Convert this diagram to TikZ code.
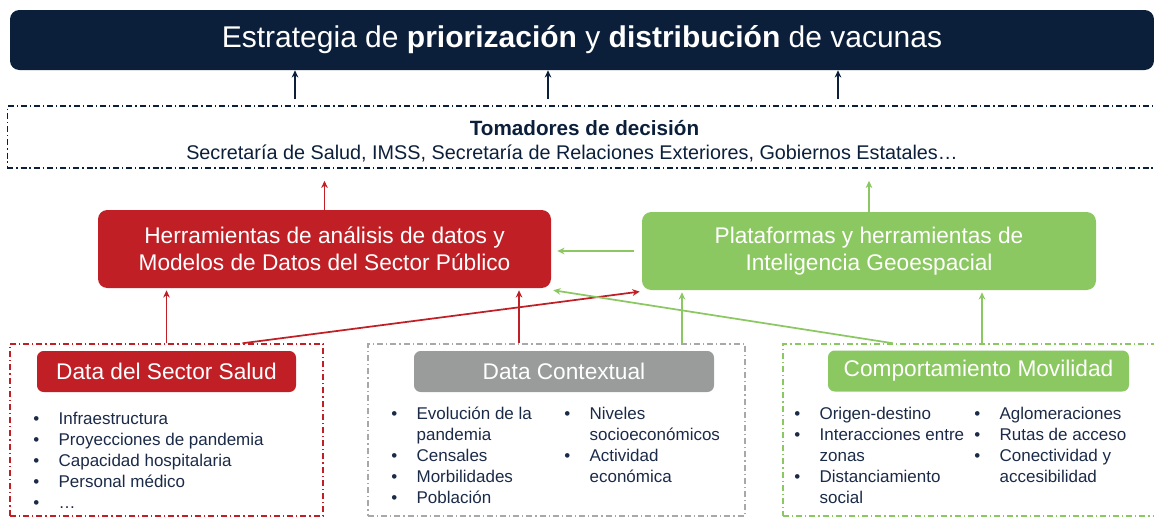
\documentclass[tikz,border=0pt]{standalone}
\usepackage{fontspec}
\setmainfont{Liberation Sans}
\usetikzlibrary{arrows.meta,calc}
\definecolor{navy}{HTML}{0B1F3A}
\definecolor{cred}{HTML}{C01F26}
\definecolor{cgreen}{HTML}{8CC862}
\definecolor{cgray}{HTML}{9A9C9C}
\definecolor{cgrayline}{HTML}{A8A8A8}
\definecolor{ctext}{HTML}{1B2A47}
\tikzset{
  ddash/.style={line width=1.1pt, dash pattern=on 4.5pt off 2.2pt on 1pt off 2.2pt},
  filled/.style={rounded corners=7pt, minimum height=58.5pt, text=white, align=center, font=\fontsize{17}{20.25}\selectfont, inner sep=0pt},
  header/.style={rounded corners=5pt, minimum height=30.75pt, text=white, font=\fontsize{17}{20}\selectfont, inner sep=0pt},
  darr/.style={line width=1.3pt, -{Stealth[length=5.5pt,width=5pt]}},
  blist/.style={anchor=north west, inner sep=0pt, text=ctext, font=\fontsize{12.75}{15.75}\selectfont},
}
\newcommand{\bl}{\makebox[19pt][l]{•}}
\begin{document}
\begin{tikzpicture}[x=0.75pt,y=-0.75pt]
\path[use as bounding box] (0,0) rectangle (1154,518);
% title
\node[fill=navy, rounded corners=7pt, minimum width=858pt, minimum height=45pt, text=white, font=\fontsize{22.5}{26}\selectfont, inner sep=0pt] (title) at (582,40)
  {Estrategia de \textbf{priorización} y \textbf{distribución} de vacunas};
% tomadores
\node[draw=navy, ddash, minimum width=880pt, minimum height=46.5pt, inner sep=0pt] (tom) at (594,137) {};
\node[text=navy, font=\fontsize{15.5}{18}\selectfont\bfseries, inner sep=0pt] (tomt) at (584.5,128) {Tomadores de decisión};
\node[text=navy, font=\fontsize{14.85}{17}\selectfont, inner sep=0pt] (toms) at (572,153) {Secretaría de Salud, IMSS, Secretaría de Relaciones Exteriores, Gobiernos Estatales…};
% navy arrows
\coordinate (na) at ([xshift=-224.25pt]tom.north);
\coordinate (nb) at ([xshift=-34.5pt]tom.north);
\coordinate (nc) at ([xshift=183pt]tom.north);
\foreach \c in {na,nb,nc}{
  \draw[darr, navy, shorten <=4.5pt] (\c) -- (\c |- title.south);
}
% main boxes
\node[filled, fill=cred, minimum width=339.75pt] (red) at (324.5,249) {Herramientas de análisis de datos y\\Modelos de Datos del Sector Público};
\node[filled, fill=cgreen, minimum width=340.5pt] (green) at (869,251) {Plataformas y herramientas de\\Inteligencia Geoespacial};
\draw[darr, cred, shorten >=9pt] (red.north) -- (red.north |- tom.south);
\draw[darr, cgreen, shorten >=9pt] (green.north) -- (green.north |- tom.south);
\draw[darr, cgreen, shorten <=6pt, shorten >=4.5pt] (green.west) -- (green.west -| red.east);
% data boxes
\node[draw=cred, ddash, minimum width=234.75pt, minimum height=129pt, inner sep=0pt] (sbox) at (166.5,430) {};
\node[draw=cgrayline, ddash, minimum width=282.75pt, minimum height=129pt, inner sep=0pt] (cbox) at (556.5,430) {};
\node[draw=cgreen, ddash, minimum width=298.5pt, minimum height=129pt, inner sep=0pt] (mbox) at (982,430) {};
\node[header, fill=cred, minimum width=194.25pt] (sh) at (166.5,371.5) {Data del Sector Salud};
\node[header, fill=cgray, minimum width=225pt] (ch) at (564,371.5) {Data Contextual};
\node[header, fill=cgreen, minimum width=225.75pt] (mh) at (978.5,371) {Comportamiento Movilidad};
% connectors up
\coordinate (ca) at ([xshift=-28.1pt]cbox.north);
\coordinate (cb) at ([xshift=94.1pt]cbox.north);
\coordinate (sr) at ([xshift=57pt]sbox.north);
\coordinate (mg) at ([xshift=-66.75pt]mbox.north);
\draw[darr, cred, shorten >=1.5pt] (sbox.north) -- (sbox.north |- red.south);
\draw[darr, cred, shorten >=1.5pt] (ca) -- (ca |- red.south);
\draw[darr, cgreen, shorten >=1.5pt] (cb) -- (cb |- green.south);
\draw[darr, cgreen, shorten >=1.5pt] (mbox.north) -- (mbox.north |- green.south);
\draw[darr, cred] (sr) -- ([xshift=-1.5pt,yshift=-1pt]green.south west);
\draw[darr, cgreen] (mg) -- ([xshift=1.5pt,yshift=-1.5pt]red.south east);
% lists
\node[blist] (sl) at (33,410) {\begin{tabular}{@{}l@{}l@{}}
\bl&Infraestructura\\
\bl&Proyecciones de pandemia\\
\bl&Capacidad hospitalaria\\
\bl&Personal médico\\
\bl&…
\end{tabular}};
\node[blist] (cl1) at (391,405) {\begin{tabular}{@{}l@{}l@{}}
\bl&Evolución de la\\
&pandemia\\
\bl&Censales\\
\bl&Morbilidades\\
\bl&Población
\end{tabular}};
\node[blist] (cl2) at (564,405) {\begin{tabular}{@{}l@{}l@{}}
\bl&Niveles\\
&socioeconómicos\\
\bl&Actividad\\
&económica
\end{tabular}};
\node[blist] (ml1) at (794,405) {\begin{tabular}{@{}l@{}l@{}}
\bl&Origen-destino\\
\bl&Interacciones entre\\
&zonas\\
\bl&Distanciamiento\\
&social
\end{tabular}};
\node[blist] (ml2) at (974,405) {\begin{tabular}{@{}l@{}l@{}}
\bl&Aglomeraciones\\
\bl&Rutas de acceso\\
\bl&Conectividad y\\
&accesibilidad
\end{tabular}};
\end{tikzpicture}
\end{document}
